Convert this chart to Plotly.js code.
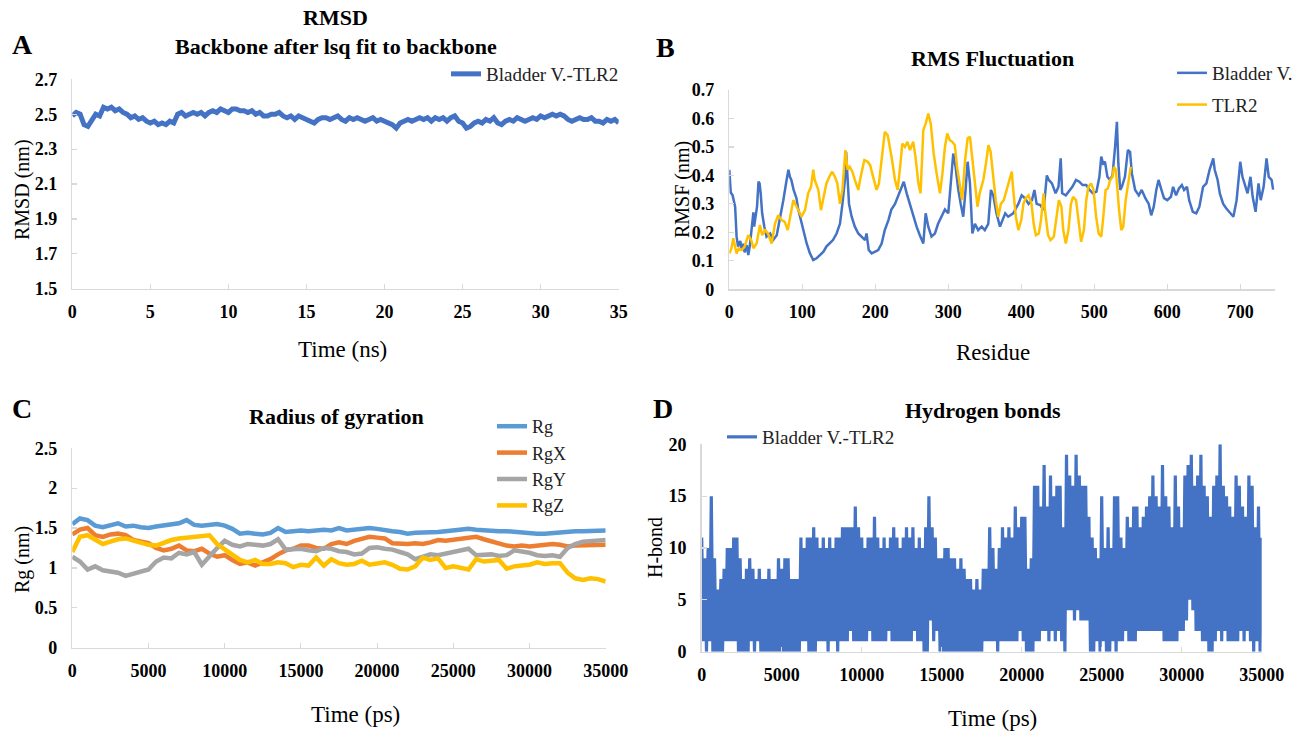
<!DOCTYPE html>
<html><head><meta charset="utf-8">
<script src="https://cdn.plot.ly/plotly-3.0.1.min.js"></script>
<style>html,body{margin:0;padding:0;background:#fff}#c{width:1304px;height:733px}</style>
</head><body><div id="c"></div>
<script>
// ---------- DATA ----------
// Panel A: RMSD (nm), sampled every 0.25 ns from 0 to 35 ns
const rmsdStepNs = 0.25;
const rmsd = [
2.49,2.51,2.50,2.44,2.43,2.47,2.50,2.49,2.54,2.53,
2.54,2.52,2.53,2.51,2.50,2.48,2.49,2.47,2.48,2.46,
2.45,2.46,2.44,2.45,2.44,2.46,2.45,2.50,2.51,2.49,
2.50,2.51,2.50,2.51,2.49,2.51,2.52,2.51,2.53,2.52,
2.51,2.53,2.53,2.52,2.52,2.51,2.52,2.50,2.51,2.49,
2.49,2.50,2.50,2.51,2.49,2.48,2.49,2.47,2.49,2.48,
2.47,2.46,2.45,2.47,2.48,2.48,2.47,2.48,2.49,2.47,
2.46,2.48,2.47,2.48,2.47,2.46,2.47,2.48,2.46,2.47,
2.46,2.45,2.44,2.42,2.45,2.46,2.47,2.46,2.47,2.48,
2.47,2.48,2.46,2.48,2.47,2.48,2.46,2.48,2.49,2.46,
2.45,2.42,2.43,2.45,2.46,2.45,2.47,2.46,2.48,2.45,
2.44,2.46,2.47,2.46,2.48,2.47,2.46,2.47,2.48,2.47,
2.49,2.48,2.49,2.50,2.49,2.50,2.49,2.47,2.46,2.47,
2.48,2.47,2.47,2.48,2.46,2.46,2.45,2.47,2.46,2.47,
2.45];

// Panel B: RMSF (nm) per residue
const bladderRes = [0,2,4.5,6,8,10,12,15,17,19,21,24,26,28,31,33,34,36,38,40,41.5,43,45,48,51,56,60,65,69,74,78.5,81,83,85,88,90,92,94.5,98,101,106,110.5,115,119.6,124,129,133,138,142,147,151.6,155,158.4,160,162,164,167.6,172,176.7,181,186,188,191,195,199.5,204,208.7,213,218,222,227,231.5,236,239,243,247.5,252,256.6,261,265.8,269,272.6,277,281.7,286,290.9,295.4,300,303.6,306.8,310,313.7,317,320.5,323.7,326.5,329.7,333,336.5,341,345.7,350,354.8,358.4,361.6,366,370.8,378,382,389,396,400.5,405,410,414.6,418,421,426,430.6,435,437.7,442,447,451,454,456,461,466,470,475,479.5,484,489,493.6,498,503,507,509.6,512,514.6,518,521.5,525,528.5,531,533,535.5,537.8,542,546,549,551.5,556,561,565,570,574.6,578,581.5,585,588,592,595.5,600,605,608,612,616,620,623,627,630,635,639.7,644,649,653.6,658,663,665,669,672,676.6,681,686,690.6,695,700,703,706.7,710,714,717,721,725,728,732,736,739,743,745];
const bladderRmsf = [0.42,0.34,0.33,0.31,0.29,0.185,0.15,0.17,0.14,0.16,0.13,0.155,0.12,0.15,0.22,0.27,0.22,0.255,0.29,0.378,0.372,0.337,0.267,0.22,0.185,0.196,0.173,0.19,0.243,0.313,0.384,0.42,0.395,0.384,0.35,0.33,0.32,0.28,0.243,0.208,0.161,0.126,0.103,0.109,0.12,0.132,0.15,0.161,0.173,0.196,0.23,0.30,0.384,0.483,0.407,0.30,0.255,0.22,0.196,0.185,0.173,0.196,0.138,0.126,0.132,0.138,0.161,0.208,0.243,0.28,0.30,0.33,0.354,0.378,0.337,0.30,0.255,0.22,0.19,0.161,0.267,0.22,0.185,0.196,0.23,0.255,0.28,0.267,0.384,0.477,0.43,0.349,0.30,0.255,0.349,0.448,0.372,0.196,0.23,0.208,0.22,0.208,0.23,0.349,0.33,0.267,0.22,0.267,0.255,0.267,0.30,0.33,0.32,0.30,0.313,0.349,0.30,0.296,0.278,0.40,0.384,0.372,0.337,0.36,0.46,0.337,0.33,0.349,0.36,0.384,0.378,0.366,0.366,0.349,0.337,0.343,0.395,0.466,0.442,0.448,0.395,0.384,0.40,0.50,0.588,0.442,0.349,0.36,0.395,0.489,0.483,0.407,0.349,0.33,0.349,0.32,0.30,0.26,0.29,0.349,0.384,0.349,0.32,0.313,0.325,0.36,0.33,0.354,0.366,0.349,0.36,0.313,0.272,0.267,0.29,0.36,0.372,0.42,0.46,0.42,0.384,0.337,0.30,0.284,0.267,0.255,0.313,0.448,0.395,0.36,0.337,0.395,0.325,0.272,0.372,0.313,0.36,0.46,0.395,0.384,0.35];
const tlr2Res = [0,3,5.5,8,10,13,17,21,26,30,33,37.4,42,45,49,53,58,62.6,67,71.7,76,80,84.5,87.7,91,94.5,99,103.7,108,112,115,117,122,125.6,129,133,138,141,144.7,148,151.6,155,159,162,165,168.5,172,176.7,180,185,189.5,193,197,201.8,205,208.7,213,217,220,223,227,230.6,234,237,240.6,244,247.5,252,255,259,262,265.8,269,272.6,276,280,284,288.6,292,295.4,298.6,302,305.5,309,312,316,319,323,326.5,329.7,333,336.5,340,343,348,351.6,355,358,361.6,365,368.5,372,376,380,384.7,387,389,392.6,396,400,403,406,410,414,417,420,424,427,430.6,433,436.7,440,444.6,448,451.5,455,457.5,461,464.6,468,471,475,478.6,482,485.8,489,492,495.6,499,502.5,506,509.6,512.8,515.5,518.6,521.8,525,527,529.5,531.6,534,537,539.7,543,546.7,550];
const tlr2Rmsf = [0.126,0.144,0.179,0.15,0.126,0.144,0.138,0.15,0.19,0.173,0.144,0.161,0.226,0.19,0.208,0.196,0.161,0.23,0.26,0.243,0.237,0.208,0.267,0.313,0.296,0.278,0.255,0.278,0.337,0.36,0.42,0.384,0.349,0.278,0.325,0.372,0.40,0.413,0.395,0.372,0.30,0.349,0.489,0.42,0.43,0.413,0.384,0.349,0.395,0.454,0.448,0.436,0.395,0.349,0.372,0.454,0.553,0.541,0.50,0.454,0.384,0.349,0.43,0.512,0.50,0.518,0.489,0.518,0.466,0.372,0.337,0.559,0.582,0.617,0.582,0.477,0.407,0.337,0.407,0.50,0.547,0.524,0.518,0.506,0.43,0.36,0.313,0.454,0.53,0.536,0.454,0.36,0.29,0.337,0.384,0.442,0.506,0.483,0.384,0.313,0.255,0.30,0.313,0.349,0.395,0.413,0.349,0.255,0.208,0.243,0.30,0.32,0.33,0.30,0.23,0.19,0.196,0.243,0.337,0.267,0.19,0.173,0.185,0.243,0.313,0.29,0.208,0.161,0.208,0.30,0.325,0.313,0.23,0.167,0.208,0.313,0.36,0.372,0.349,0.255,0.196,0.185,0.267,0.349,0.354,0.384,0.395,0.43,0.42,0.349,0.278,0.208,0.22,0.313,0.372,0.43];

// Panel C: radius of gyration (nm), sampled every 500 ps from 0 to 35000 ps
const rgStepPs = 500;
const rg = [
1.55,1.62,1.60,1.53,1.51,1.54,1.56,1.52,1.53,1.51,
1.50,1.52,1.53,1.55,1.56,1.60,1.54,1.53,1.54,1.55,
1.53,1.49,1.43,1.44,1.43,1.42,1.44,1.50,1.45,1.46,
1.47,1.46,1.47,1.48,1.47,1.50,1.47,1.48,1.49,1.50,
1.49,1.47,1.46,1.45,1.43,1.44,1.44,1.45,1.45,1.46,
1.47,1.48,1.49,1.48,1.47,1.47,1.46,1.46,1.45,1.44,
1.44,1.43,1.43,1.44,1.44,1.45,1.46,1.46,1.46,1.46,
1.47];
const rgX = [
1.42,1.48,1.50,1.41,1.39,1.42,1.43,1.41,1.35,1.33,
1.31,1.25,1.22,1.24,1.28,1.22,1.21,1.24,1.18,1.14,
1.16,1.10,1.05,1.07,1.03,1.07,1.11,1.17,1.22,1.24,
1.28,1.28,1.25,1.24,1.30,1.32,1.30,1.34,1.37,1.39,
1.38,1.37,1.31,1.30,1.30,1.31,1.30,1.32,1.35,1.34,
1.35,1.36,1.37,1.39,1.36,1.33,1.31,1.28,1.27,1.28,
1.27,1.28,1.29,1.30,1.29,1.27,1.28,1.28,1.29,1.28,
1.29];
const rgY = [
1.14,1.08,0.98,1.02,0.97,0.95,0.94,0.90,0.93,0.95,
0.98,1.08,1.13,1.12,1.19,1.17,1.20,1.04,1.15,1.25,
1.34,1.29,1.27,1.30,1.29,1.28,1.30,1.36,1.23,1.24,
1.24,1.22,1.21,1.25,1.24,1.21,1.20,1.17,1.18,1.25,
1.26,1.24,1.23,1.20,1.17,1.11,1.14,1.17,1.16,1.18,
1.21,1.23,1.24,1.16,1.16,1.17,1.15,1.16,1.22,1.21,
1.19,1.16,1.15,1.16,1.14,1.25,1.30,1.33,1.34,1.35,
1.35];
const rgZ = [
1.20,1.39,1.41,1.36,1.30,1.33,1.36,1.37,1.34,1.31,
1.29,1.28,1.32,1.35,1.37,1.38,1.39,1.40,1.41,1.30,
1.23,1.17,1.10,1.07,1.10,1.05,1.05,1.07,1.06,1.01,
1.04,1.03,1.13,1.03,1.11,1.06,1.04,1.05,1.09,1.04,
1.05,1.07,1.04,0.99,0.98,1.02,1.13,1.10,1.12,1.00,
1.02,1.00,0.98,1.11,1.08,1.09,1.10,0.99,1.02,1.03,
1.04,1.07,1.05,1.06,1.06,0.94,0.87,0.85,0.87,0.86,
0.83];

// Panel D: hydrogen bonds, sampled every 100 ps from 0 to 35000 ps
const hbStepPs = 100;
const hbond = [
11,1,9,0,10,1,15,0,9,0,  6,0,7,0,8,1,10,1,10,1,
11,1,11,0,9,0,7,0,8,0,  9,1,8,0,7,1,8,0,7,0,
7,0,8,0,7,0,7,0,9,0,  8,0,9,0,9,0,7,0,7,0,
7,0,11,1,10,1,11,0,11,0,  12,0,11,1,10,1,11,1,10,0,
11,1,10,1,11,0,11,1,12,1,  12,1,12,2,12,1,14,1,12,1,
11,1,10,1,11,2,11,1,13,1,  11,1,10,1,11,1,10,2,11,1,
12,1,11,1,10,1,11,1,12,1,  11,1,12,2,10,1,11,1,10,0,
12,0,15,3,12,1,11,2,9,0,  9,0,10,0,10,0,9,0,9,0,
8,0,9,0,8,0,7,0,7,0,  6,0,7,0,6,0,8,1,8,1,
12,1,10,1,8,0,10,1,12,1,  11,1,12,1,11,1,14,1,12,2,
13,1,13,0,8,0,9,0,16,1,  16,1,14,2,18,2,14,1,17,2,
15,1,16,2,16,1,12,0,19,4,  17,4,16,3,19,4,17,3,16,3,
16,3,13,0,11,0,10,1,9,0,  15,1,10,0,12,0,10,1,15,0,
15,1,11,1,10,2,13,1,12,1,  14,1,14,2,12,2,13,2,14,2,
15,2,17,2,15,2,14,2,18,1,  15,1,14,1,12,1,17,1,14,2,
12,2,17,3,18,5,19,4,16,2,  17,2,19,1,16,1,15,0,13,0,
16,1,17,2,20,1,16,2,15,1,  14,1,13,1,17,1,16,2,14,1,
13,2,17,1,16,0,12,1,14,0,  11];

// Tick values
const tickA_x = [0,5,10,15,20,25,30,35];
const tickA_y = [1.5,1.7,1.9,2.1,2.3,2.5,2.7];
const tickB_x = [0,100,200,300,400,500,600,700];
const tickB_y = [0,0.1,0.2,0.3,0.4,0.5,0.6,0.7];
const tickC_x = [0,5000,10000,15000,20000,25000,30000,35000];
const tickC_y = [0,0.5,1,1.5,2,2.5];
const tickD_x = [0,5000,10000,15000,20000,25000,30000,35000];
const tickD_y = [0,5,10,15,20];

// ---------- HELPERS ----------
function grid(step, n){ const a=[]; for(let i=0;i<n;i++) a.push(+(i*step).toFixed(4)); return a; }
const W=1304, H=733;
const X = p => p/W, Y = p => 1-p/H;
const FONT = '"Liberation Serif", "Times New Roman", serif';
const C_BLUE='#4472C4', C_GOLD='#FFC000', C_ORANGE='#ED7D31', C_GRAY='#A5A5A5', C_LBLUE='#5B9BD5';

function axis(domain, range, tickvals, isX, extra){
  return Object.assign({
    domain: domain, range: range, tickvals: tickvals, ticktext: tickvals.map(String),
    showgrid:false, zeroline:false, showline:true, linecolor:'#d9d9d9', linewidth:1.5,
    ticks:'inside', ticklen:5, tickcolor:'#d9d9d9', tickwidth:1.2,
    ticklabelstandoff: isX ? 6 : 10,
    tickfont:{family:FONT, size:18, color:'#000', weight:'bold'},
    exponentformat:'none', fixedrange:true
  }, extra||{});
}

// ---------- TRACES ----------
const traces = [
  {x:grid(rmsdStepNs, rmsd.length), y:rmsd, xaxis:'x', yaxis:'y', type:'scatter', mode:'lines',
   name:'Bladder V.-TLR2', line:{color:C_BLUE, width:5}, legend:'legend'},
  {x:bladderRes, y:bladderRmsf, xaxis:'x2', yaxis:'y2', type:'scatter', mode:'lines',
   name:'Bladder V.', line:{color:C_BLUE, width:2.5}, legend:'legend2', legendgroup:'b1'},
  {x:tlr2Res, y:tlr2Rmsf, xaxis:'x2', yaxis:'y2', type:'scatter', mode:'lines',
   name:'TLR2', line:{color:C_GOLD, width:2.5}, legend:'legend2', legendgroup:'b2'},
  {x:grid(rgStepPs, rg.length), y:rg, xaxis:'x3', yaxis:'y3', type:'scatter', mode:'lines',
   name:'Rg', line:{color:C_LBLUE, width:4.5}, legend:'legend3'},
  {x:grid(rgStepPs, rgX.length), y:rgX, xaxis:'x3', yaxis:'y3', type:'scatter', mode:'lines',
   name:'RgX', line:{color:C_ORANGE, width:4.5}, legend:'legend3'},
  {x:grid(rgStepPs, rgY.length), y:rgY, xaxis:'x3', yaxis:'y3', type:'scatter', mode:'lines',
   name:'RgY', line:{color:C_GRAY, width:4.5}, legend:'legend3'},
  {x:grid(rgStepPs, rgZ.length), y:rgZ, xaxis:'x3', yaxis:'y3', type:'scatter', mode:'lines',
   name:'RgZ', line:{color:C_GOLD, width:4.5}, legend:'legend3'},
  {x:grid(hbStepPs, hbond.length), y:hbond, xaxis:'x4', yaxis:'y4', type:'scatter', mode:'lines',
   name:'Bladder V.-TLR2', line:{color:C_BLUE, width:3.2}, legend:'legend4'}
];

// ---------- LAYOUT ----------
function ann(text, x, y, size, bold, angle){
  return {text:text, x:X(x), y:Y(y), xref:'paper', yref:'paper', showarrow:false,
    xanchor:'center', yanchor:'middle', textangle:angle||0,
    font:{family:FONT, size:size, color:'#000', weight: bold?'bold':'normal'}};
}
const legFont = {family:FONT, size:19, color:'#222'};
const legFontC = {family:FONT, size:18, color:'#222'};
const layout = {
  width:W, height:H, margin:{l:0,r:0,t:0,b:0},
  paper_bgcolor:'#fff', plot_bgcolor:'#fff', showlegend:true,
  xaxis:  axis([X(72.3),X(618.7)], [0,35], tickA_x, true, {anchor:'y'}),
  yaxis:  axis([Y(288.7),Y(79.3)], [1.5,2.7], tickA_y, false, {anchor:'x'}),
  xaxis2: axis([X(729.3),X(1275.3)], [0,748], tickB_x, true, {anchor:'y2'}),
  yaxis2: axis([Y(289.3),Y(90)], [0,0.7], tickB_y, false, {anchor:'x2'}),
  xaxis3: axis([X(72.3),X(605.7)], [0,35000], tickC_x, true, {anchor:'y3'}),
  yaxis3: axis([Y(647.7),Y(448.3)], [0,2.5], tickC_y, false, {anchor:'x3'}),
  xaxis4: axis([X(701.7),X(1261.7)], [0,35000], tickD_x, true, {anchor:'y4'}),
  yaxis4: axis([Y(651.7),Y(444.3)], [0,20], tickD_y, false, {anchor:'x4'}),
  legend:  {x:X(446), y:Y(55), xanchor:'left', yanchor:'top', bgcolor:'rgba(0,0,0,0)', font:legFont},
  legend2: {x:X(1172), y:Y(54), xanchor:'left', yanchor:'top', bgcolor:'rgba(0,0,0,0)', font:legFont, tracegroupgap:4},
  legend3: {x:X(492), y:Y(408), xanchor:'left', yanchor:'top', bgcolor:'rgba(0,0,0,0)', font:legFontC, tracegroupgap:0},
  legend4: {x:X(722), y:Y(418), xanchor:'left', yanchor:'top', bgcolor:'rgba(0,0,0,0)', font:legFont},
  annotations: [
    ann('A', 22, 44, 28, true),
    ann('RMSD', 335, 18, 22, true),
    ann('Backbone after lsq fit to backbone', 336, 46, 22, true),
    ann('Time (ns)', 342, 349, 23, false),
    ann('RMSD (nm)', 22, 190, 20, false, -90),
    ann('B', 665, 48, 28, true),
    ann('RMS Fluctuation', 992, 58, 22, true),
    ann('Residue', 993, 352, 23, false),
    ann('RMSF (nm)', 682, 190, 20, false, -90),
    ann('C', 22, 408, 28, true),
    ann('Radius of gyration', 336, 416, 22, true),
    ann('Time (ps)', 355, 714, 23, false),
    ann('Rg (nm)', 22, 560, 20, false, -90),
    ann('D', 663, 408, 28, true),
    ann('Hydrogen bonds', 983, 410, 22, true),
    ann('Time (ps)', 992, 718, 23, false),
    ann('H-bond', 655, 548, 20, false, -90)
  ]
};
Plotly.newPlot('c', traces, layout, {displayModeBar:false, staticPlot:true});
</script></body></html>
